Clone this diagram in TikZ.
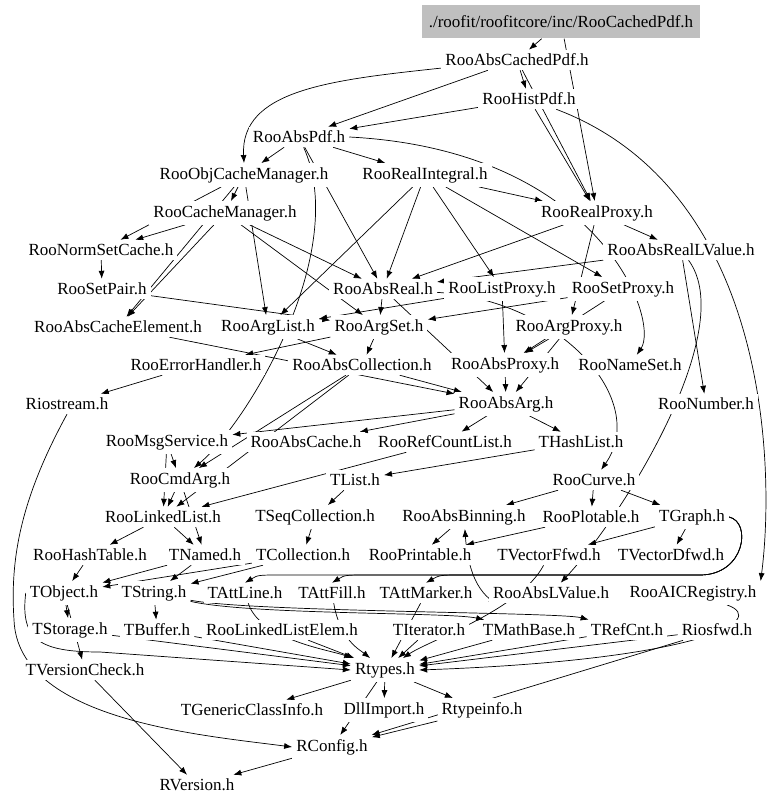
\documentclass[tikz,border=0pt]{standalone}
\usepackage{fontspec}
\setmainfont{Liberation Serif}
\usetikzlibrary{arrows.meta,backgrounds}
\tikzset{
  hdr/.style={inner sep=4pt, fill=white, font=\fontsize{17}{19}\selectfont},
  mainhdr/.style={hdr, fill=black!25, inner xsep=7pt, minimum height=33pt},
  dep/.style={-{Latex[length=8pt,width=6pt]}, line width=0.7pt}
}
\begin{document}
\begin{tikzpicture}[x=1pt,y=-1pt]
  \useasboundingbox (0,0) rectangle (779,805);
  \node[mainhdr] (cachedpdf) at (561,22) {./roofit/roofitcore/inc/RooCachedPdf.h};
  \node[hdr] (abscachedpdf) at (517,60) {RooAbsCachedPdf.h};
  \node[hdr] (histpdf) at (529,99) {RooHistPdf.h};
  \node[hdr] (abspdf) at (299,137) {RooAbsPdf.h};
  \node[hdr] (objcachemgr) at (244,175) {RooObjCacheManager.h};
  \node[hdr] (realintegral) at (425,175) {RooRealIntegral.h};
  \node[hdr] (realproxy) at (597,213) {RooRealProxy.h};
  \node[hdr] (cachemgr) at (225,213) {RooCacheManager.h};
  \node[hdr] (normsetcache) at (101,250) {RooNormSetCache.h};
  \node[hdr] (absreallv) at (681,250) {RooAbsRealLValue.h};
  \node[hdr] (setpair) at (102,289) {RooSetPair.h};
  \node[hdr] (absreal) at (383,289) {RooAbsReal.h};
  \node[hdr] (listproxy) at (502,289) {RooListProxy.h};
  \node[hdr] (setproxy) at (623,289) {RooSetProxy.h};
  \node[hdr] (abscacheelem) at (118,327) {RooAbsCacheElement.h};
  \node[hdr] (arglist) at (268,327) {RooArgList.h};
  \node[hdr] (argset) at (379,327) {RooArgSet.h};
  \node[hdr] (argproxy) at (569,327) {RooArgProxy.h};
  \node[hdr] (errorhandler) at (196,365) {RooErrorHandler.h};
  \node[hdr] (abscollection) at (362,365) {RooAbsCollection.h};
  \node[hdr] (absproxy) at (505,365) {RooAbsProxy.h};
  \node[hdr] (nameset) at (630,365) {RooNameSet.h};
  \node[hdr] (riostream) at (67,404) {Riostream.h};
  \node[hdr] (absarg) at (506,404) {RooAbsArg.h};
  \node[hdr] (number) at (706,404) {RooNumber.h};
  \node[hdr] (msgservice) at (167,442) {RooMsgService.h};
  \node[hdr] (abscache) at (306,442) {RooAbsCache.h};
  \node[hdr] (refcountlist) at (445,442) {RooRefCountList.h};
  \node[hdr] (thashlist) at (581,442) {THashList.h};
  \node[hdr] (cmdarg) at (180,480) {RooCmdArg.h};
  \node[hdr] (tlist) at (355,480) {TList.h};
  \node[hdr] (curve) at (594,480) {RooCurve.h};
  \node[hdr] (linkedlist) at (163,517) {RooLinkedList.h};
  \node[hdr] (seqcollection) at (315,517) {TSeqCollection.h};
  \node[hdr] (absbinning) at (464,517) {RooAbsBinning.h};
  \node[hdr] (plotable) at (591,517) {RooPlotable.h};
  \node[hdr] (tgraph) at (692,517) {TGraph.h};
  \node[hdr] (hashtable) at (90,555) {RooHashTable.h};
  \node[hdr] (tnamed) at (205,555) {TNamed.h};
  \node[hdr] (tcollection) at (303,555) {TCollection.h};
  \node[hdr] (printable) at (420,555) {RooPrintable.h};
  \node[hdr] (vectorffwd) at (549,555) {TVectorFfwd.h};
  \node[hdr] (vectordfwd) at (671,555) {TVectorDfwd.h};
  \node[hdr] (tobject) at (64,593) {TObject.h};
  \node[hdr] (tstring) at (154,593) {TString.h};
  \node[hdr] (attline) at (245,593) {TAttLine.h};
  \node[hdr] (attfill) at (332,593) {TAttFill.h};
  \node[hdr] (attmarker) at (426,593) {TAttMarker.h};
  \node[hdr] (abslvalue) at (551,593) {RooAbsLValue.h};
  \node[hdr] (aicregistry) at (693,593) {RooAICRegistry.h};
  \node[hdr] (tstorage) at (70,630) {TStorage.h};
  \node[hdr] (tbuffer) at (157,630) {TBuffer.h};
  \node[hdr] (linkedlistelem) at (282,630) {RooLinkedListElem.h};
  \node[hdr] (titerator) at (429,630) {TIterator.h};
  \node[hdr] (tmathbase) at (529,630) {TMathBase.h};
  \node[hdr] (trefcnt) at (627,630) {TRefCnt.h};
  \node[hdr] (riosfwd) at (717,630) {Riosfwd.h};
  \node[hdr] (tversioncheck) at (85,670) {TVersionCheck.h};
  \node[hdr] (rtypes) at (385,670) {Rtypes.h};
  \node[hdr] (genericclassinfo) at (252,710) {TGenericClassInfo.h};
  \node[hdr] (dllimport) at (384,710) {DllImport.h};
  \node[hdr] (rtypeinfo) at (482,710) {Rtypeinfo.h};
  \node[hdr] (rconfig) at (332,747) {RConfig.h};
  \node[hdr] (rversion) at (197,785) {RVersion.h};
  \begin{scope}[on background layer]
    \foreach \a/\b in {cachedpdf/abscachedpdf, cachedpdf/realproxy,
        abscachedpdf/histpdf, abscachedpdf/abspdf, abscachedpdf/realproxy,
        histpdf/abspdf, histpdf/realproxy, abspdf/objcachemgr, abspdf/realintegral,
        abspdf/absreal, objcachemgr/cachemgr, objcachemgr/normsetcache,
        objcachemgr/abscacheelem, objcachemgr/arglist, cachemgr/normsetcache,
        cachemgr/abscacheelem, cachemgr/argset, cachemgr/absreal,
        realintegral/realproxy, realintegral/absreal, realintegral/listproxy,
        realintegral/setproxy, realintegral/arglist, realproxy/absreallv,
        realproxy/argproxy, realproxy/absreal, absreallv/absreal,
        absreallv/number, normsetcache/setpair, setpair/argset,
        absreal/absarg, absreal/argset, listproxy/absproxy, listproxy/arglist,
        setproxy/absproxy, setproxy/argset, abscacheelem/absarg,
        arglist/abscollection, argset/abscollection, argset/errorhandler,
        argproxy/absproxy, argproxy/absarg, errorhandler/riostream,
        abscollection/absarg, abscollection/cmdarg, abscollection/linkedlist,
        absproxy/absarg, absarg/thashlist, absarg/refcountlist,
        absarg/abscache, absarg/msgservice, msgservice/cmdarg,
        msgservice/linkedlist, refcountlist/linkedlist, thashlist/tlist,
        cmdarg/tnamed, cmdarg/linkedlist, tlist/seqcollection, curve/tgraph,
        curve/plotable, curve/absbinning, linkedlist/hashtable, linkedlist/tnamed,
        seqcollection/tcollection, absbinning/printable, plotable/printable,
        tgraph/vectordfwd, tgraph/vectorffwd, hashtable/tobject,
        tnamed/tobject, tnamed/tstring, tcollection/tobject, tcollection/tstring,
        tobject/tstorage, tobject/tversioncheck,
        tstring/tbuffer, tstorage/rtypes, tbuffer/rtypes,
        linkedlistelem/rtypes, titerator/rtypes, tmathbase/rtypes,
        trefcnt/rtypes, riosfwd/rtypes, attmarker/rtypes,
        rtypes/genericclassinfo, rtypes/dllimport, rtypes/rtypeinfo,
        rtypes/rconfig, rtypeinfo/rconfig, riosfwd/rconfig,
        tversioncheck/rversion, rconfig/rversion}
      \draw[dep] (\a) -- (\b);
    \foreach \t/\x in {attmarker/440, attfill/345, attline/258}
      \draw[dep] (tgraph.east) .. controls (752,522) and (745,575) .. (700,575)
        -- (\x+25,575) .. controls (\x,575) .. (\t.north);
    \draw[dep] (histpdf) .. controls (770,190) and (775,470) .. (aicregistry.north east);
    \draw[dep] (abscachedpdf) .. controls (330,80) and (240,90) .. (objcachemgr.north);
    \draw[dep] (riostream.south) .. controls (20,500) and (10,560) .. (14,620)
      .. controls (18,720) and (200,735) .. (rconfig.west);
    \draw[dep] (abspdf) .. controls (350,250) and (250,420) .. (cmdarg);
    \draw[dep] (abspdf.east) .. controls (600,150) and (660,320) .. (nameset);
    \draw[dep] (absreal) .. controls (560,300) and (650,400) .. (curve);
    \draw[dep] (absreallv) .. controls (740,330) and (620,520) .. (abslvalue);
    \draw[dep] (abslvalue) .. controls (500,600) and (470,600) .. (absbinning);
    \draw[dep] (attline) .. controls (260,640) and (330,650) .. (rtypes);
    \draw[dep] (attfill) .. controls (340,640) and (360,650) .. (rtypes);
    \draw[dep] (tstring) .. controls (250,615) and (450,612) .. (tmathbase);
    \draw[dep] (tstring) .. controls (250,612) and (560,612) .. (trefcnt);
    \draw[dep] (tobject.west) .. controls (20,640) and (40,652) .. (100,652)
      -- (rtypes.west);
    \draw[dep] (aicregistry) .. controls (770,620) and (700,660) .. (rtypes.east);
    \draw[dep] (vectorffwd) .. controls (520,610) and (430,640) .. (rtypes);
  \end{scope}
\end{tikzpicture}
\end{document}
